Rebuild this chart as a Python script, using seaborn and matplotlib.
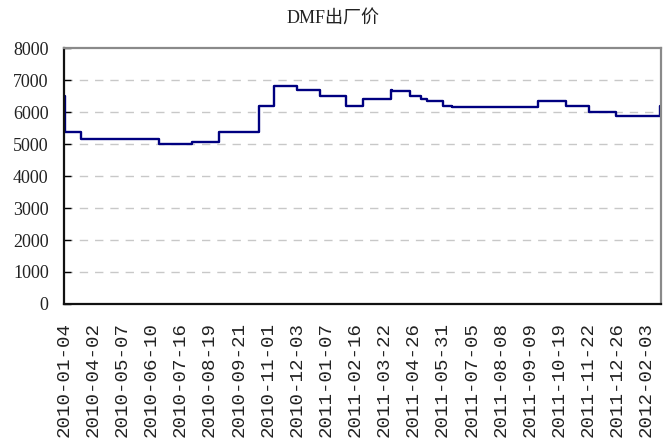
import matplotlib
matplotlib.use("Agg")
import matplotlib.pyplot as plt
import seaborn as sns
import pandas as pd

# ---- data ----
tick_labels = [
    "2010-01-04", "2010-04-02", "2010-05-07", "2010-06-10", "2010-07-16",
    "2010-08-19", "2010-09-21", "2010-11-01", "2010-12-03", "2011-01-07",
    "2011-02-16", "2011-03-22", "2011-04-26", "2011-05-31", "2011-07-05",
    "2011-08-08", "2011-09-09", "2011-10-19", "2011-11-22", "2011-12-26",
    "2012-02-03",
]
# position of each price change, in units of the label spacing (label i at i)
change_pos = [0.00, 0.04, 0.58, 3.26, 4.41, 5.33, 6.71, 7.22, 8.01, 8.80,
              9.70, 10.25, 11.24, 11.28, 11.89, 12.26, 12.46, 13.03, 13.32,
              16.28, 17.24, 18.02, 18.97, 20.46, 20.50]
price = [6500, 5380, 5150, 5000, 5070, 5380, 6200, 6820, 6700, 6500,
         6200, 6400, 6700, 6650, 6500, 6400, 6330, 6200, 6150,
         6330, 6200, 6000, 5880, 6200, 6200]
y_ticks = [0, 1000, 2000, 3000, 4000, 5000, 6000, 7000, 8000]

df = pd.DataFrame({"pos": change_pos, "price": price})

sns.set_style("white")
plt.rcParams["font.family"] = ["Liberation Serif", "Noto Sans CJK SC", "DejaVu Sans"]

fig = plt.figure(figsize=(6.65, 4.44), dpi=100)
ax = fig.add_axes([64 / 665, 1 - 304 / 444, (661 - 64) / 665, (304 - 48) / 444])

sns.lineplot(data=df, x="pos", y="price", ax=ax, color="#000080",
             linewidth=1.7, drawstyle="steps-post", estimator=None, sort=False)

ax.set_xlim(0, 20.5)
ax.set_ylim(0, 8000)
ax.set_yticks(y_ticks)
ax.set_yticklabels([str(v) for v in y_ticks], fontsize=13,
                   fontfamily="Liberation Serif", color="#222222")
ax.set_xticks(list(range(len(tick_labels))))
ax.set_xticklabels(tick_labels, rotation=90, fontsize=13.8,
                   fontfamily="Liberation Mono", color="#222222")
ax.set_xlabel("")
ax.set_ylabel("")

ax.tick_params(axis="y", direction="in", length=5, width=1, color="black", pad=11, left=True)
ax.tick_params(axis="x", length=0, pad=13)

for v in y_ticks[1:-1]:
    ax.axhline(v, color="#c8c8c8", linewidth=1.0, dashes=(6, 5), zorder=0)

for side in ["left", "bottom"]:
    ax.spines[side].set_color("#111111")
    ax.spines[side].set_linewidth(1.6)
for side in ["top", "right"]:
    ax.spines[side].set_visible(True)
    ax.spines[side].set_color("#8a8a8a")
    ax.spines[side].set_linewidth(1.6)

fig.text(333 / 665, 1 - 18 / 444, "DMF出厂价", ha="center", va="center",
         fontsize=13, family=["Liberation Serif", "Noto Sans CJK SC"], color="#222222")

fig.savefig("out.png", dpi=100)
